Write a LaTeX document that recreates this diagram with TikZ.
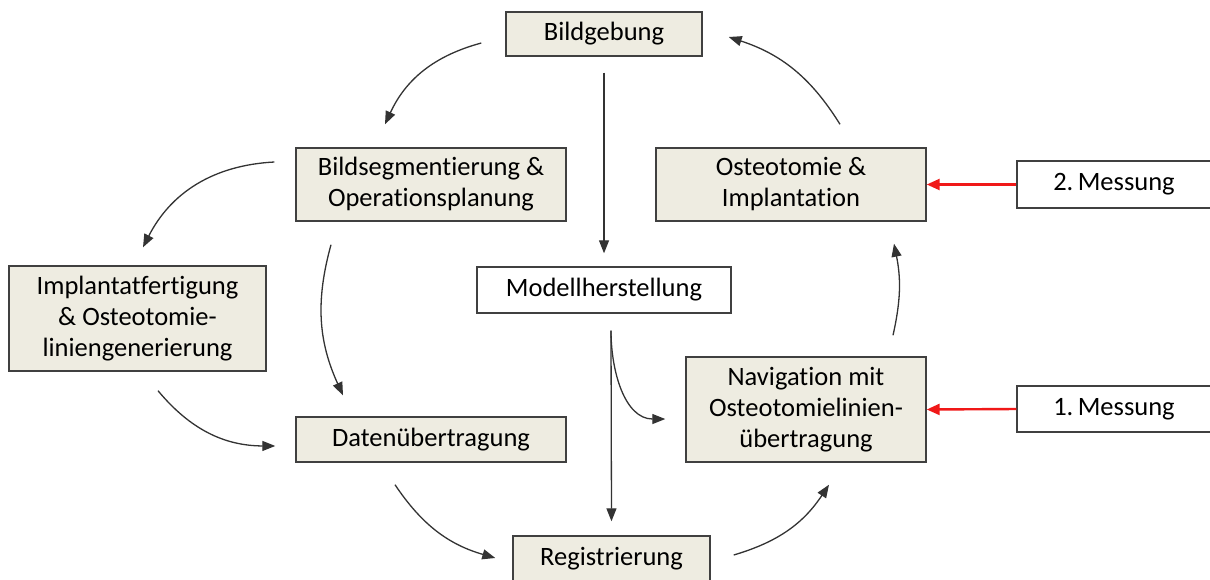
\documentclass[tikz,border=0pt]{standalone}
\usepackage{fontspec}
\setmainfont[Ligatures=NoCommon]{Carlito}
\usetikzlibrary{arrows.meta, calc}
\definecolor{boxfill}{HTML}{EEECE1}
\definecolor{boxline}{HTML}{404040}
\definecolor{arrline}{HTML}{333333}
\definecolor{messred}{HTML}{F01818}

\begin{document}
\begin{tikzpicture}[x=1pt,y=-1pt,
  box/.style={draw=boxline, fill=boxfill, line width=1.4pt, align=center, inner sep=0pt,
    font=\fontsize{26.5}{31}\selectfont},
  wbox/.style={box, fill=white},
  flow/.style={draw=arrline, line width=1.3pt, -{Triangle[length=13pt,width=10pt]}},
  meas/.style={draw=messred, line width=2.4pt, -{Triangle[length=13pt,width=11pt]}}]
\useasboundingbox (0,0) rectangle (1210,579);
\node[box, minimum width=196, minimum height=44] (bild) at (604,34) {Bildgebung};
\node[box, minimum width=270, minimum height=73] (seg) at (431,184.5) {Bildsegmentierung \&\\Operationsplanung};
\node[box, minimum width=270, minimum height=73] (osteo) at (791,184.5) {Osteotomie \&\\Implantation};
\node[wbox, minimum width=200, minimum height=47] (mess2) at (1117,184.5) {2.\,Messung\hspace*{6pt}};
\node[box, minimum width=257, minimum height=105] (impl) at (137.5,318.5) {Implantatfertigung\\\& Osteotomie-\\liniengenerierung};
\node[wbox, minimum width=254, minimum height=46] (modell) at (604,290) {Modellherstellung};
\node[box, minimum width=240, minimum height=105] (navi) at (806,409.5) {Navigation mit\\Osteotomielinien-\\übertragung};
\node[wbox, minimum width=200, minimum height=46] (mess1) at (1117,409) {1.\,Messung\hspace*{6pt}};
\node[box, minimum width=270, minimum height=45] (daten) at (431,439.5) {Datenübertragung};
\node[box, minimum width=197, minimum height=46] (reg) at (611.5,559) {Registrierung};

\draw[flow] ($(bild.west)+(-24,9)$) to[bend right=25] ($(seg.north)+(-46,-23)$);
\draw[flow] ($(bild.south)+(0,16)$) -- ($(modell.north)+(0,-13)$);
\draw[flow] ($(seg.west)+(-21,-22.5)$) to[bend right=30] ($(impl.north)+(5.5,-18)$);
\draw[flow] ($(seg.south)+(-100,23)$) to[bend right=20] ($(daten.north)+(-88,-21)$);
\draw[flow] ($(impl.south)+(20.5,19)$) to[bend right=25] ($(daten.west)+(-20,6.5)$);
\draw[flow] ($(daten.south)+(-36,22)$) to[bend right=20] ($(reg.west)+(-17,-1)$);
\draw[flow] ($(modell.south)+(7,17)$) -- ($(reg.north)+(0,-14)$);
\draw[flow] ($(modell.south)+(7,17)$) to[out=-90,in=180] ($(navi.west)+(-20,9.5)$);
\draw[flow] ($(reg.east)+(23,-4)$) to[bend right=20] ($(navi.south)+(23,22)$);
\draw[flow] ($(navi.north)+(87,-21)$) to[bend right=12] ($(osteo.south)+(103,22)$);
\draw[flow] ($(osteo.north)+(49,-23)$) to[bend right=20] ($(bild.east)+(26,3)$);
\draw[meas] (mess2.west) -- (osteo.east);
\draw[meas] (mess1.west) -- (navi.east);
\end{tikzpicture}
\end{document}
